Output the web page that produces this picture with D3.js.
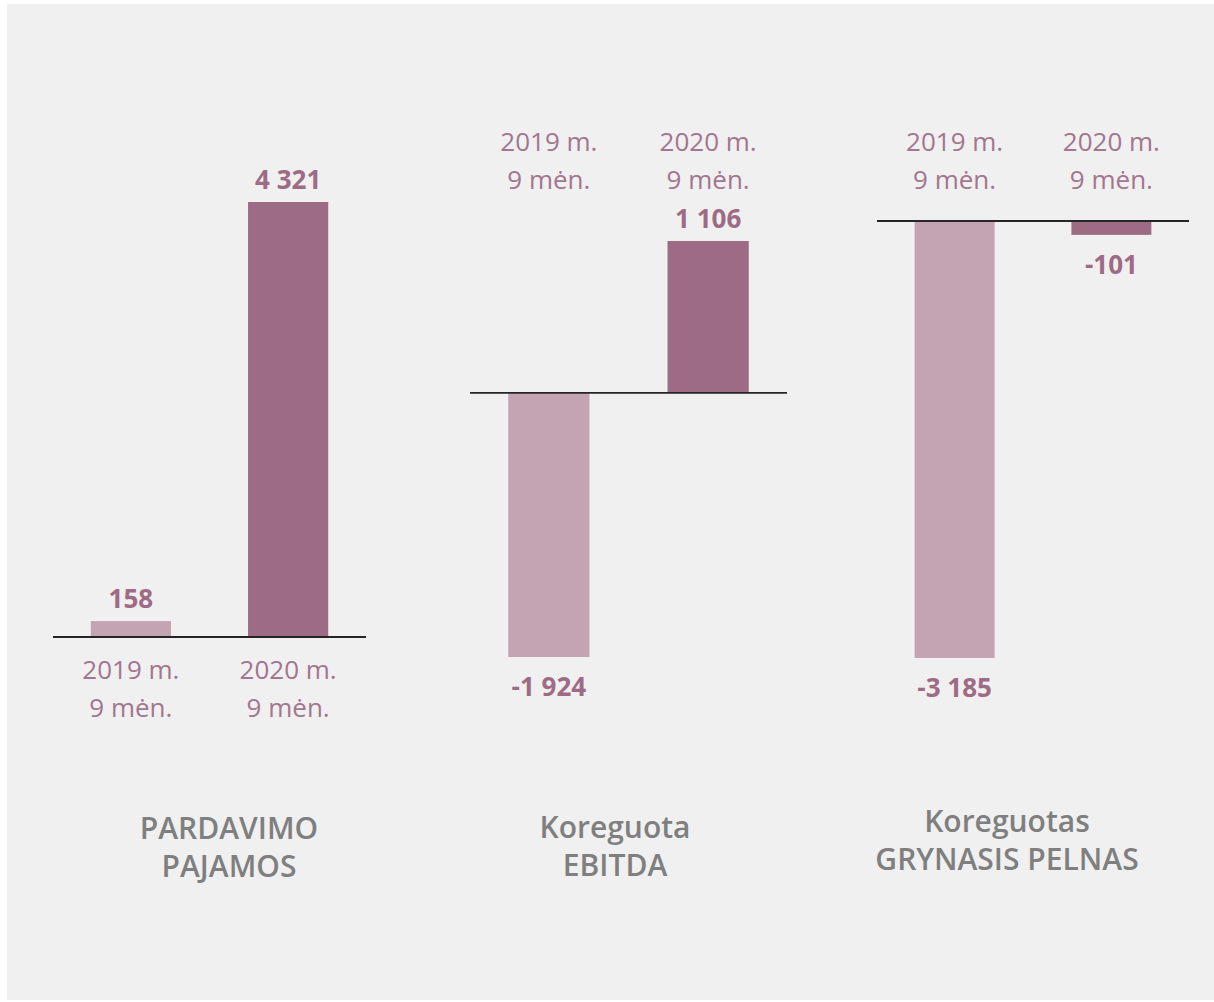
<!DOCTYPE html>
<html>
<head>
  <meta charset="utf-8">
  <script src="https://d3js.org/d3.v7.min.js"></script>
  <style>
    body { margin: 0; background: #fff; }
    .value { font-family: "Open Sans", "Noto Sans", sans-serif; font-weight: 700; font-size: 26px; fill: #9e6b85; }
    .year { font-family: "Open Sans", "Noto Sans", sans-serif; font-size: 26px; fill: #a2768e; }
    .title { font-family: "Open Sans", "Noto Sans", sans-serif; font-weight: 600; font-size: 30px; fill: #7f7f7f; }
  </style>
</head>
<body>
  <svg id="chart" width="1214" height="1002"></svg>
  <script>
    // data
    const titles = [["PARDAVIMO", "PAJAMOS"], ["Koreguota", "EBITDA"], ["Koreguotas", "GRYNASIS PELNAS"]];
    const years = [["2019 m.", "9 mėn."], ["2020 m.", "9 mėn."]];
    const values2019 = [158, -1924, -3185];
    const values2020 = [4321, 1106, -101];

    const svg = d3.select("#chart");

    svg.append("rect")
      .attr("x", 7).attr("y", 4)
      .attr("width", 1207).attr("height", 996)
      .attr("fill", "#f0f0f0");

    const colors = ["#c4a3b3", "#9e6b85"];

    const loc = d3.formatLocale({ decimal: ",", thousands: " ", grouping: [3], currency: ["", ""], minus: "-" });
    const fmt = loc.format(",d");

    // panel layout (pixels)
    const panels = [
      { x0: 53, x1: 366, yTop: 202, yBot: 637, titleX: 229, titleY: 829 },
      { x0: 470, x1: 787, yTop: 241, yBot: 657, titleX: 615, titleY: 828 },
      { x0: 877, x1: 1189, yTop: 221, yBot: 658, titleX: 1007, titleY: 822 }
    ];

    titles.forEach((t, i) => {
      const p = panels[i];
      const vals = [values2019[i], values2020[i]];
      const lo = Math.min(0, d3.min(vals)), hi = Math.max(0, d3.max(vals));
      const y = d3.scaleLinear().domain([lo, hi]).range([p.yBot, p.yTop]);
      const x = d3.scaleBand().domain([0, 1]).range([p.x0, p.x1])
        .paddingInner(0.49).paddingOuter(0.24);

      const g = svg.append("g");

      g.selectAll("rect.bar").data(vals)
        .join("rect")
        .attr("class", "bar")
        .attr("x", (d, j) => x(j))
        .attr("width", x.bandwidth())
        .attr("y", d => y(Math.max(0, d)))
        .attr("height", d => Math.abs(y(d) - y(0)))
        .attr("fill", (d, j) => colors[j]);

      g.append("line")
        .attr("x1", p.x0).attr("x2", p.x1)
        .attr("y1", y(0)).attr("y2", y(0))
        .attr("stroke", "#262626")
        .attr("stroke-width", 1.8);

      g.selectAll("text.value").data(vals)
        .join("text")
        .attr("class", "value")
        .attr("text-anchor", "middle")
        .attr("x", (d, j) => x(j) + x.bandwidth() / 2)
        .attr("y", d => d >= 0 ? y(d) - 13 : y(d) + 39)
        .text(d => fmt(d));

      // year labels: below the baseline if all positive, else at the top
      const allPos = d3.min(vals) >= 0;
      const yearY = allPos ? y(0) + 42 : 151;
      years.forEach((lines, j) => {
        lines.forEach((l, k) => {
          g.append("text")
            .attr("class", "year")
            .attr("text-anchor", "middle")
            .attr("x", x(j) + x.bandwidth() / 2)
            .attr("y", yearY + k * 38)
            .text(l);
        });
      });

      t.forEach((l, k) => {
        g.append("text")
          .attr("class", "title")
          .attr("text-anchor", "middle")
          .attr("x", p.titleX)
          .attr("y", p.titleY + 10 + k * 38)
          .text(l);
      });
    });
  </script>
</body>
</html>
